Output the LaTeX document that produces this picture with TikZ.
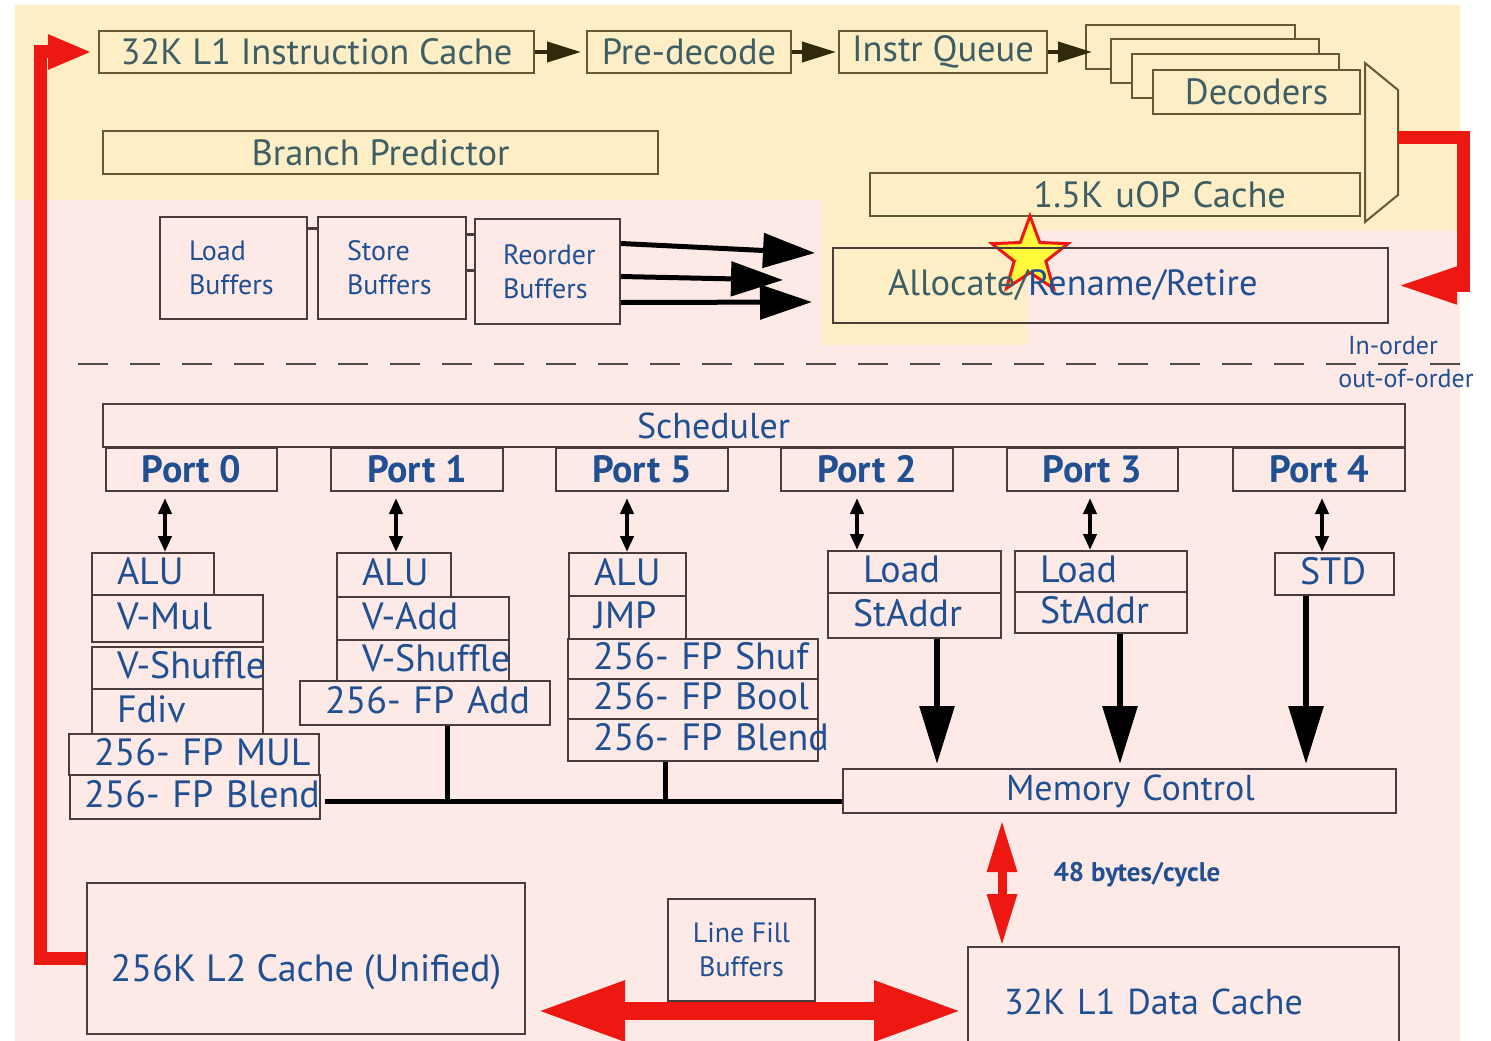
\documentclass[tikz,border=0pt]{standalone}
\usepackage{fontspec}
\setmainfont{PT Sans}
\usetikzlibrary{arrows.meta,shapes.geometric}

\definecolor{bgpink}{RGB}{253,234,231}
\definecolor{bgyellow}{RGB}{254,238,197}
\definecolor{tealtext}{RGB}{62,94,102}
\definecolor{bluetext}{RGB}{32,80,146}
\definecolor{oliveline}{RGB}{104,88,48}
\definecolor{boxline}{RGB}{74,60,60}
\definecolor{hotred}{RGB}{238,24,18}
\definecolor{darkolive}{RGB}{50,40,12}
\definecolor{staryellow}{RGB}{255,250,60}
\definecolor{dashgray}{RGB}{80,76,76}

\newcommand\fsTop{\fontsize{36.5}{42}\selectfont}
\newcommand\fsUnit{\fontsize{38}{44}\selectfont}
\newcommand\fsMid{\fontsize{36}{42}\selectfont}
\newcommand\fsPort{\fontsize{38}{44}\selectfont\bfseries}
\newcommand\fsSmall{\fontsize{28}{34}\selectfont}
\newcommand\fsNote{\fontsize{26}{30}\selectfont}

\tikzset{
  topbox/.style={draw=oliveline, line width=2pt, inner sep=0pt, anchor=north west, text=tealtext, font=\fsTop},
  lowbox/.style={draw=boxline, line width=2pt, inner sep=0pt, anchor=north west, text=bluetext, font=\fsUnit},
  unit/.style={lowbox, inner xsep=25pt, align=left, text height=28pt, text depth=7pt},
  port/.style={lowbox, font=\fsPort, minimum height=43pt},
  bufbox/.style={lowbox, font=\fsSmall, align=left, inner xsep=29pt},
  flow/.style={draw=darkolive, line width=4pt, -{Triangle[length=34pt,width=20pt]}},
  feed/.style={draw=black, line width=5pt, -{Triangle[length=52pt,width=34pt]}},
  drop/.style={draw=black, line width=6pt, -{Triangle[length=58pt,width=34pt]}},
  portlink/.style={draw=black, line width=4pt, {Triangle[length=16pt,width=13pt]}-{Triangle[length=16pt,width=13pt]}},
  bus/.style={draw=black, line width=5pt},
  redpath/.style={draw=hotred, line width=13pt},
  note/.style={text=bluetext, font=\fsNote, inner sep=0pt},
}

\begin{document}
\begin{tikzpicture}[x=1pt,y=-1pt]
\useasboundingbox (0,0) rectangle (1491,1041);
\fill[white] (0,0) rectangle (1491,1041);

% background bands: in-order front end (yellow) and out-of-order core (pink)
\fill[bgpink] (15,5) rectangle (1460,1041);
\fill[bgyellow] (15,5) -- (1460,5) -- (1460,230) -- (1027,230) -- (1027,345)
  -- (822,345) -- (822,200) -- (15,200) -- cycle;

% ---------- front end ----------
\node[topbox, minimum width=435pt, minimum height=42pt] (icache) at (98,30) {32K L1 Instruction Cache};
\node[topbox, minimum width=204pt, minimum height=42pt] (predec) at (586,30) {Pre-decode};
\node[topbox, minimum width=208pt, minimum height=42pt] (iq) at (838,30) {Instr Queue};
\node[topbox, minimum width=555pt, minimum height=43pt] (bp) at (102,130) {Branch Predictor};

% stacked decoders
\node[topbox, fill=bgyellow, minimum width=209pt, minimum height=44pt] (dec1) at (1085,24) {};
\node[topbox, fill=bgyellow, minimum width=208pt, minimum height=44pt] (dec2) at (1110,38) {};
\node[topbox, fill=bgyellow, minimum width=207pt, minimum height=44pt] (dec3) at (1131,53) {};
\node[topbox, fill=bgyellow, minimum width=207pt, minimum height=44pt] (dec) at (1152,69) {Decoders};

\node[topbox, align=right, text width=342pt, inner xsep=74pt, minimum height=43pt] (uop) at (869,172) {\mbox{1.5K uOP Cache}};

% selector between decoders and uop cache
\draw[oliveline, line width=2pt, fill=bgyellow] (1365,63) -- (1398,90) -- (1398,195) -- (1365,222) -- cycle;
\coordinate (muxout) at (1398,137);

\draw[flow, shorten >=5pt] (icache.east) -- (predec.west);
\draw[flow, shorten >=2pt] (predec.east) -- (iq.west);
\draw[flow] (iq.east) -- ([xshift=7pt]dec1.west |- iq.east);

% ---------- allocation ----------
\node[star, star points=5, star point ratio=2.4, minimum size=80pt, inner sep=0pt,
      fill=staryellow, draw=hotred, line width=3pt] (star) at (1030,256) {};
\node[topbox, draw=boxline, align=left, text width=445pt, inner xsep=55pt, minimum height=75pt] (alloc) at (832,247)
  {\mbox{\textcolor{tealtext}{Allocate/}\textcolor{bluetext}{Rename/Retire}}};

\node[bufbox, text width=89pt, minimum height=102pt] (lb) at (159,216) {Load\\Buffers};
\node[bufbox, text width=90pt, minimum height=102pt] (sb) at (317,216) {Store\\Buffers};
\node[bufbox, text width=89pt, inner xsep=28pt, minimum height=105pt] (rob) at (474,218) {Reorder\\Buffers};

\coordinate (c1) at (0,228);
\coordinate (c2) at (0,234);
\coordinate (c3) at (0,270);
\draw[boxline, line width=3pt] (lb.east |- c1) -- (sb.west |- c1);
\draw[boxline, line width=3pt] (sb.east |- c2) -- (rob.west |- c2);
\draw[boxline, line width=3pt] (sb.east |- c3) -- (rob.west |- c3);

\coordinate (f1) at (815,253);
\coordinate (f2) at (783,280);
\coordinate (f3) at (812,302);
\draw[feed] ([yshift=28pt]rob.east) -- (f1);
\draw[feed] ([yshift=-5pt]rob.east) -- (f2);
\draw[feed] ([yshift=-31pt]rob.east) -- (f3);

% uops from the decoders / uop cache into allocation
\coordinate (retx) at (1463,0);
\draw[redpath, line join=miter, -{Triangle[length=60pt,width=34pt]}, shorten >=8pt]
  (muxout) -- (muxout -| retx) -- (retx |- alloc.east) -- (alloc.east);

% in-order / out-of-order boundary
\coordinate (dashL) at (78,364);
\coordinate (dashR) at (1480,364);
\draw[dashgray, line width=2.5pt, dash pattern=on 30pt off 22pt] (dashL) -- (dashR);
\node[note] (inord) at (1393,346) {In-order};
\node[note] (outord) at (1406,378) {out-of-order};

% ---------- scheduler and ports ----------
\node[lowbox, font=\fsMid, align=left, text width=234pt, inner xsep=534pt, minimum height=43pt] (sched) at (102,403) {Scheduler};
\node[port, minimum width=171pt] (p0) at (105,447) {Port 0};
\node[port, minimum width=172pt] (p1) at (330,447) {Port 1};
\node[port, minimum width=172pt] (p5) at (555,447) {Port 5};
\node[port, minimum width=172pt] (p2) at (780,447) {Port 2};
\node[port, minimum width=171pt] (p3) at (1006,447) {Port 3};
\node[port, minimum width=172pt] (p4) at (1232,447) {Port 4};

% port 0 units
\node[unit, text width=72pt, minimum height=42pt] (alu0) at (91,552) {\mbox{ALU}};
\node[unit, text width=121pt, minimum height=47pt] (vmul0) at (91,594) {\mbox{V-Mul}};
\node[unit, text width=121pt, minimum height=42pt] (vshuf0) at (91,646) {\mbox{V-Shuffle}};
\node[unit, text width=121pt, minimum height=45pt] (fdiv0) at (91,688) {\mbox{Fdiv}};
\node[unit, text width=200pt, minimum height=41pt] (fpmul0) at (68,733) {\mbox{256- FP MUL}};
\node[unit, text width=222pt, inner xsep=14pt, minimum height=44pt] (fpblend0) at (69,774) {\mbox{256- FP Blend}};

% port 1 units
\node[unit, text width=64pt, minimum height=44pt] (alu1) at (336,552) {\mbox{ALU}};
\node[unit, text width=122pt, minimum height=43pt] (vadd1) at (336,596) {\mbox{V-Add}};
\node[unit, text width=122pt, minimum height=41pt] (vshuf1) at (336,639) {\mbox{V-Shuffle}};
\node[unit, text width=200pt, minimum height=44pt] (fpadd1) at (299,680) {\mbox{256- FP Add}};

% port 5 units
\node[unit, text width=67pt, minimum height=43pt] (alu5) at (568,552) {\mbox{ALU}};
\node[unit, text width=67pt, minimum height=43pt] (jmp5) at (568,595) {\mbox{JMP}};
\node[unit, text width=200pt, minimum height=40pt] (fpshuf5) at (567,638) {\mbox{256- FP Shuf}};
\node[unit, text width=200pt, minimum height=40pt] (fpbool5) at (567,678) {\mbox{256- FP Bool}};
\node[unit, text width=200pt, minimum height=42pt] (fpblend5) at (567,718) {\mbox{256- FP Blend}};

% load / store ports
\node[unit, text width=113pt, inner xsep=30pt, minimum height=42pt] (load2) at (827,550) {\mbox{\hspace*{5pt}Load}};
\node[unit, text width=123pt, minimum height=45pt] (sa2) at (827,592) {\mbox{StAddr}};
\node[unit, text width=122pt, minimum height=41pt] (load3) at (1014,550) {\mbox{Load}};
\node[unit, text width=122pt, minimum height=41pt] (sa3) at (1014,591) {\mbox{StAddr}};
\node[unit, text width=69pt, minimum height=42pt] (std4) at (1274,552) {\mbox{STD}};

\coordinate (k0) at (165,0);
\coordinate (k1) at (396,0);
\coordinate (k5) at (627,0);
\coordinate (k2) at (857,0);
\coordinate (k3) at (1090,0);
\coordinate (k4) at (1322,0);
\draw[portlink, shorten <=6pt] (p0.south -| k0) -- (alu0.north -| k0);
\draw[portlink, shorten <=6pt] (p1.south -| k1) -- (alu1.north -| k1);
\draw[portlink, shorten <=6pt] (p5.south -| k5) -- (alu5.north -| k5);
\draw[portlink, shorten <=6pt] (p2.south -| k2) -- (load2.north -| k2);
\draw[portlink, shorten <=6pt] (p3.south -| k3) -- (load3.north -| k3);
\draw[portlink, shorten <=6pt] (p4.south -| k4) -- (std4.north -| k4);

% ---------- memory ----------
\node[lowbox, font=\fsMid, align=left, text width=227pt, inner xsep=163pt, minimum height=44pt] (memctl) at (842,768) {\mbox{Memory Control}};

\coordinate (d2) at (937,0);
\coordinate (d3) at (1120,0);
\coordinate (d4) at (1306,0);
\draw[drop, shorten >=4pt] (sa2.south -| d2) -- (memctl.north -| d2);
\draw[drop, shorten >=4pt] (sa3.south -| d3) -- (memctl.north -| d3);
\draw[drop, shorten >=4pt] (std4.south -| d4) -- (memctl.north -| d4);

% result bus
\coordinate (busy) at (0,801);
\coordinate (bx1) at (447,0);
\coordinate (bx5) at (665,0);
\draw[bus, shorten <=4pt] (fpblend0.east |- busy) -- (memctl.west |- busy);
\draw[bus] (fpadd1.south -| bx1) -- (bx1 |- busy);
\draw[bus] (fpblend5.south -| bx5) -- (bx5 |- busy);

\node[lowbox, font=\fsUnit, minimum width=438pt, minimum height=151pt] (l2) at (86,882) {\raisebox{-23pt}[0pt][0pt]{256K L2 Cache (Unified)}};
\node[lowbox, font=\fsSmall, align=center, minimum width=147pt, minimum height=102pt] (lfb) at (667,898) {Line Fill\\Buffers};
\node[lowbox, font=\fsMid, align=left, text width=359pt, inner xsep=36pt, minimum height=110pt] (l1d) at (967,946) {\mbox{32K L1 Data Cache}};

% 48 bytes/cycle between memory control and L1D
\coordinate (mcx) at (1002,0);
\draw[draw=hotred, line width=9pt, {Triangle[length=52pt,width=28pt]}-{Triangle[length=52pt,width=28pt]}, shorten <=6pt]
  (memctl.south -| mcx) -- (l1d.north -| mcx);
\node[text=bluetext, font=\fontsize{27}{32}\selectfont\bfseries, inner sep=0pt] (bw) at (1137,875) {48 bytes/cycle};

% L2 <-> L1D fill path
\coordinate (fill) at (0,1011);
\draw[draw=hotred, line width=18pt, {Triangle[length=88pt,width=56pt]}-{Triangle[length=88pt,width=56pt]},
      shorten <=11pt, shorten >=5pt] (l2.east |- fill) -- (l1d.west |- fill);

% L2 -> L1 instruction cache refill
\coordinate (loopx) at (40,0);
\draw[redpath, line join=miter, -{Triangle[length=44pt,width=32pt]}, shorten >=6pt]
  (l2.west) -- (l2.west -| loopx) -- (loopx |- icache.west) -- (icache.west);
\end{tikzpicture}
\end{document}
